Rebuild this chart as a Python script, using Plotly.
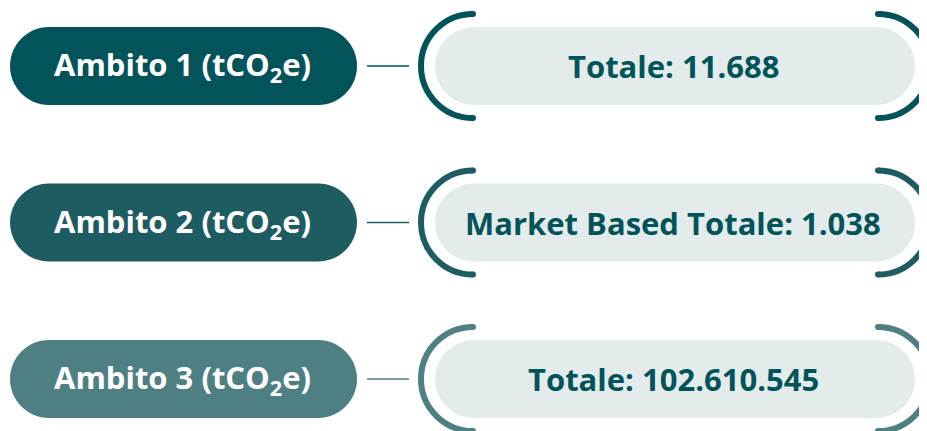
import plotly.graph_objects as go

# data
scopes = ["Ambito 1 (tCO<sub>2</sub>e)", "Ambito 2 (tCO<sub>2</sub>e)", "Ambito 3 (tCO<sub>2</sub>e)"]
totals = ["Totale: 11.688", "Market Based Totale: 1.038", "Totale: 102.610.545"]
scope_colors = ["#02535a", "#1d5d62", "#4e7f83"]

OFF = 8  # page margin around the plot div
W, H = 927 - OFF, 431 - OFF  # fit the window exactly, no scrollbars
ROW_Y0, ROW_STEP = 66 - OFF, 156.5
PILL_H = 78
K = 0.5523


def pill(x0, x1, yc, h):
    r = h / 2
    y0, y1 = yc - r, yc + r
    c = r * K
    return (
        f"M {x0 + r},{y0} L {x1 - r},{y0} "
        f"C {x1 - r + c},{y0} {x1},{yc - c} {x1},{yc} "
        f"C {x1},{yc + c} {x1 - r + c},{y1} {x1 - r},{y1} "
        f"L {x0 + r},{y1} "
        f"C {x0 + r - c},{y1} {x0},{yc + c} {x0},{yc} "
        f"C {x0},{yc - c} {x0 + r - c},{y0} {x0 + r},{y0} Z"
    )


def half_circle(xc, yc, r, side):
    s = -1 if side == "left" else 1
    c = r * K
    return (
        f"M {xc},{yc - r} "
        f"C {xc + s * c},{yc - r} {xc + s * r},{yc - c} {xc + s * r},{yc} "
        f"C {xc + s * r},{yc + c} {xc + s * c},{yc + r} {xc},{yc + r}"
    )


fig = go.Figure()
shapes = []
annotations = []

for i, (lab, val, col) in enumerate(zip(scopes, totals, scope_colors)):
    yc = ROW_Y0 + i * ROW_STEP
    # left label pill
    shapes.append(dict(type="path", path=pill(10 - OFF, 357 - OFF, yc, PILL_H),
                       fillcolor=col, line=dict(width=0), layer="below"))
    # connector
    shapes.append(dict(type="line", x0=367 - OFF, x1=409 - OFF, y0=yc, y1=yc,
                       line=dict(color=col, width=1.5)))
    # value pill
    shapes.append(dict(type="path", path=pill(435 - OFF, 915 - OFF, yc, PILL_H),
                       fillcolor="#e4eceb", line=dict(width=0), layer="below"))
    # brackets
    for xc, side in [(473 - OFF, "left"), (878 - OFF, "right")]:
        shapes.append(dict(type="path", path=half_circle(xc, yc, 52, side),
                           line=dict(color=col, width=6)))
        for yy in (yc - 52, yc + 52):
            shapes.append(dict(type="circle", x0=xc - 3, x1=xc + 3, y0=yy - 3, y1=yy + 3,
                               fillcolor=col, line=dict(width=0)))

    annotations.append(dict(x=182 - OFF, y=yc, text=lab, showarrow=False,
                            font=dict(family="Open Sans", size=31, color="white", weight="bold"),
                            xanchor="center", yanchor="middle"))
    annotations.append(dict(x=673 - OFF, y=yc, text=val, showarrow=False,
                            font=dict(family="Open Sans", size=31, color="#02535a", weight="bold"),
                            xanchor="center", yanchor="middle"))

fig.update_layout(
    width=W, height=H, autosize=False,
    margin=dict(l=0, r=0, t=0, b=0),
    paper_bgcolor="white", plot_bgcolor="white",
    xaxis=dict(range=[0, W], visible=False, fixedrange=True),
    yaxis=dict(range=[H, 0], visible=False, fixedrange=True),
    shapes=shapes, annotations=annotations, showlegend=False,
)

fig.write_html("out.html", config={"displayModeBar": False})
